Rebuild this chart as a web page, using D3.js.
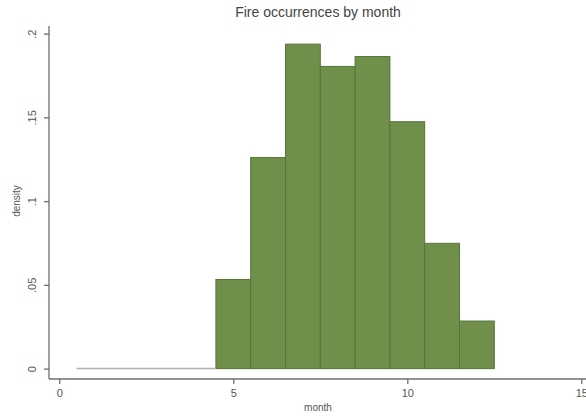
<!DOCTYPE html>
<html>
<head>
<meta charset="utf-8">
<script src="https://cdn.jsdelivr.net/npm/d3@7"></script>
<style>
  body { margin: 0; background: #fff; }
  text { font-family: "Liberation Sans", Arial, sans-serif; }
</style>
</head>
<body>
<script>
// Histogram of fire occurrences by month (density, bin width 1)
const months = [1, 2, 3, 4, 5, 6, 7, 8, 9, 10, 11, 12];
const density = [0, 0, 0, 0, 0.0532, 0.126, 0.1937, 0.1804, 0.1863, 0.1474, 0.0748, 0.0284];
const xTicks = [0, 5, 10, 15];
const yTicks = [0, 0.05, 0.1, 0.15, 0.2];
const yTickLabels = ["0", ".05", ".1", ".15", ".2"];

const W = 586, H = 419;
const svg = d3.select("body").append("svg").attr("width", W).attr("height", H);

const x = d3.scaleLinear().domain([0, 15]).range([59.3, 581.3]);
const y = d3.scaleLinear().domain([0, 0.2]).range([368.6, 33.6]);

const axisColor = "#6e6e6e";
const textColor = "#555";

// title
svg.append("text").attr("x", 318).attr("y", 17).attr("text-anchor", "middle")
  .attr("font-size", 14).attr("fill", "#444").text("Fire occurrences by month");

// bars
const bins = months.map((m, i) => ({ m, v: density[i] }));
svg.append("g").selectAll("rect").data(bins.filter(d => d.v > 0)).join("rect")
  .attr("x", d => x(d.m - 0.5))
  .attr("y", d => y(d.v))
  .attr("width", d => x(d.m + 0.5) - x(d.m - 0.5))
  .attr("height", d => y(0) - y(d.v))
  .attr("fill", "#6f8f4a")
  .attr("stroke", "#56743a")
  .attr("stroke-width", 1);

// empty bins drawn as a flat line on the baseline
const empty = bins.filter(d => d.v === 0);
svg.append("line")
  .attr("x1", x(d3.min(empty, d => d.m) - 0.5))
  .attr("x2", x(d3.max(empty, d => d.m) + 0.5))
  .attr("y1", y(0)).attr("y2", y(0))
  .attr("stroke", "#b0b0b0").attr("stroke-width", 1.5);

// y axis
const yAxis = svg.append("g").attr("transform", "translate(49,0)")
  .call(d3.axisLeft(y).tickValues(yTicks).tickSize(5).tickFormat((d, i) => yTickLabels[i]));
yAxis.select(".domain").remove();
yAxis.append("line").attr("x1", 0).attr("x2", 0).attr("y1", 26).attr("y2", 379)
  .attr("stroke", axisColor).attr("stroke-width", 1.3);
yAxis.selectAll(".tick line").attr("stroke", axisColor).attr("stroke-width", 1.3);
yAxis.selectAll(".tick text")
  .attr("fill", textColor).attr("font-size", 11)
  .attr("x", 0).attr("dy", 0)
  .attr("text-anchor", "middle")
  .attr("transform", "translate(-13,0) rotate(-90)");

// x axis
const xAxis = svg.append("g").attr("transform", "translate(0,379)")
  .call(d3.axisBottom(x).tickValues(xTicks).tickSize(5).tickFormat(d3.format("d")));
xAxis.select(".domain").remove();
xAxis.append("line").attr("x1", 49).attr("x2", W).attr("y1", 0).attr("y2", 0)
  .attr("stroke", axisColor).attr("stroke-width", 1.3);
xAxis.selectAll(".tick line").attr("stroke", axisColor).attr("stroke-width", 1.3);
xAxis.selectAll(".tick text").attr("fill", textColor).attr("font-size", 11).attr("y", 10);

// axis titles
svg.append("text").attr("x", 318).attr("y", 411).attr("text-anchor", "middle")
  .attr("font-size", 10).attr("fill", textColor).text("month");
svg.append("text").attr("transform", "translate(20,201) rotate(-90)").attr("text-anchor", "middle")
  .attr("font-size", 10).attr("fill", textColor).text("density");
</script>
</body>
</html>
